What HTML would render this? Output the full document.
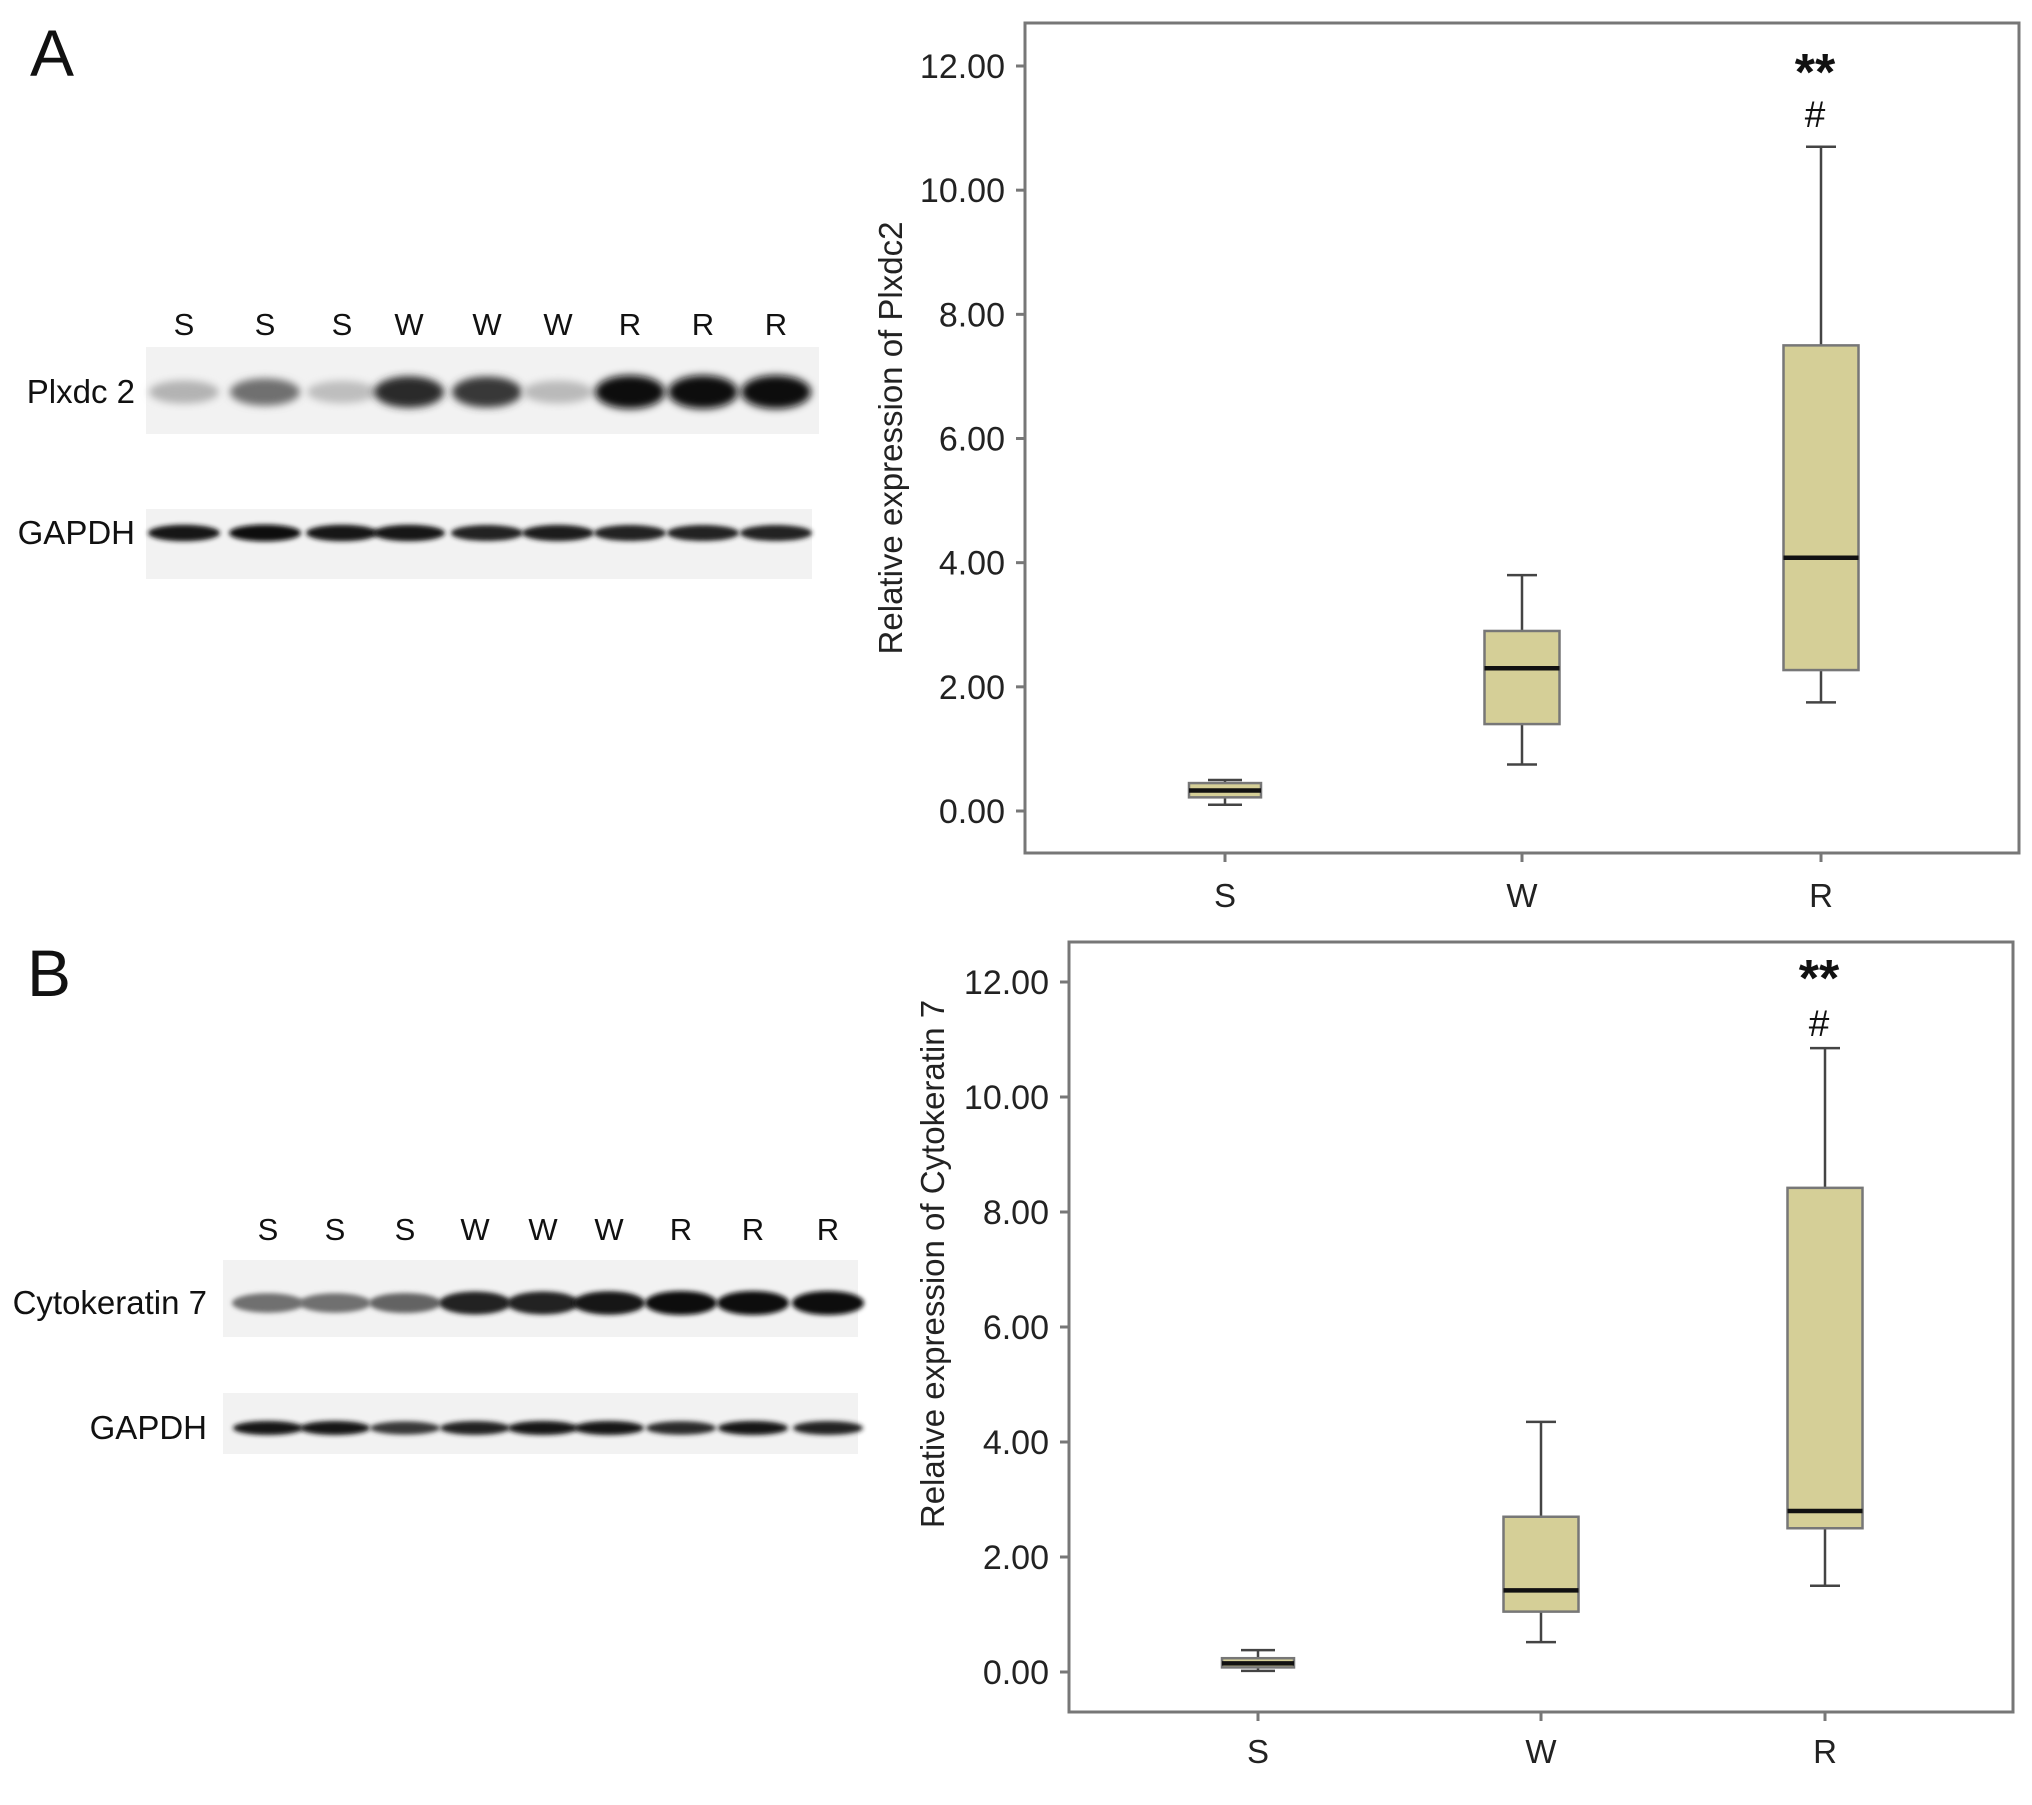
<!DOCTYPE html>
<html><head><meta charset="utf-8"><style>
html,body{margin:0;padding:0;background:#fff;}
svg{display:block;font-family:"Liberation Sans",Arial,sans-serif;}
</style></head><body>
<svg id="fig" width="2032" height="1805" viewBox="0 0 2032 1805" xmlns="http://www.w3.org/2000/svg">
<defs>
<filter id="blur" x="-20%" y="-50%" width="140%" height="200%"><feGaussianBlur stdDeviation="4"/></filter>
<filter id="blur2" x="-20%" y="-50%" width="140%" height="200%"><feGaussianBlur stdDeviation="2.5"/></filter>
</defs>
<text x="30" y="76" font-size="66" fill="#111">A</text>
<text x="27" y="996" font-size="66" fill="#111">B</text>
<g id="blots"></g>
<g id="chartA"></g>
<g id="chartB"></g>
</svg>
<script>
const NS="http://www.w3.org/2000/svg";
// ---- Chart data ----
const categories=["S","W","R"];
const yTicks=[0,2,4,6,8,10,12];
const tickLabels=["0.00","2.00","4.00","6.00","8.00","10.00","12.00"];
// Panel A (Plxdc2)
const aWhiskerLow=[0.1,0.75,1.75];
const aQ1=[0.22,1.4,2.27];
const aMedian=[0.33,2.3,4.08];
const aQ3=[0.45,2.9,7.5];
const aWhiskerHigh=[0.5,3.8,10.7];
// Panel B (Cytokeratin 7)
const bWhiskerLow=[0.02,0.52,1.5];
const bQ1=[0.08,1.05,2.5];
const bMedian=[0.15,1.42,2.8];
const bQ3=[0.24,2.7,8.42];
const bWhiskerHigh=[0.38,4.35,10.85];
// Blot lane labels and band intensities (0..1)
const laneLabels=["S","S","S","W","W","W","R","R","R"];
const plxdcIntensity=[0.25,0.55,0.2,0.85,0.8,0.22,1,1,1];
const gapdhAIntensity=[0.95,1,0.95,0.95,0.9,0.92,0.9,0.9,0.9];
const ck7Intensity=[0.55,0.55,0.6,0.9,0.9,0.95,1,1,1];
const gapdhBIntensity=[0.95,0.95,0.8,0.9,0.95,0.95,0.85,0.95,0.9];

function el(tag,attrs,parent){const e=document.createElementNS(NS,tag);for(const k in attrs)e.setAttribute(k,attrs[k]);parent.appendChild(e);return e;}

function drawChart(g,cfg,lo,q1,med,q3,hi){
  const yS=v=>cfg.y0-(v/12)*(cfg.y0-cfg.y12);
  const fr=el("rect",{x:cfg.left,y:cfg.top,width:cfg.right-cfg.left,height:cfg.bottom-cfg.top,fill:"#fff",stroke:"#777","stroke-width":3},g);
  
  
  yTicks.forEach((t,i)=>{
    const y=yS(t);
    const tk=el("line",{x1:cfg.left-9,x2:cfg.left,y1:y,y2:y,stroke:"#777","stroke-width":3},g);
    
    
    const tl=el("text",{x:cfg.left-20,y:y+12,"font-size":34,"text-anchor":"end",fill:"#222"},g);
    tl.textContent=tickLabels[i];
    
    
  });
  const yt=el("text",{x:0,y:0,"font-size":33,"text-anchor":"middle",fill:"#222",transform:`translate(${cfg.titleX},${cfg.titleY}) rotate(-90)`},g);
  yt.textContent=cfg.title;
  
  
  categories.forEach((c,i)=>{
    const x=cfg.xs[i];
    const xt=el("line",{x1:x,x2:x,y1:cfg.bottom,y2:cfg.bottom+9,stroke:"#777","stroke-width":3},g);
    
    
    const xl=el("text",{x:x,y:cfg.xLabelY,"font-size":33,"text-anchor":"middle",fill:"#222"},g);
    xl.textContent=c;
    
    
    const bw=i===0?72:75, cw=i===0?34:30;
    const wl=el("line",{x1:x,x2:x,y1:yS(hi[i]),y2:yS(lo[i]),stroke:"#444","stroke-width":2.5},g);
    
    
    [hi[i],lo[i]].forEach(v=>{
      const cap=el("line",{x1:x-cw/2,x2:x+cw/2,y1:yS(v),y2:yS(v),stroke:"#444","stroke-width":2.5},g);
      
      
    });
    const bx=el("rect",{x:x-bw/2,y:yS(q3[i]),width:bw,height:yS(q1[i])-yS(q3[i]),fill:"#d5cf97",stroke:"#777","stroke-width":2.5},g);
    
    
    const md=el("line",{x1:x-bw/2,x2:x+bw/2,y1:yS(med[i]),y2:yS(med[i]),stroke:"#111","stroke-width":4.5},g);
    
    
  });
  const st=el("text",{x:cfg.xs[2]-6,y:cfg.starY,"font-size":52,"font-weight":"bold","text-anchor":"middle",fill:"#111"},g);
  st.textContent="**";
  
  
  const hs=el("text",{x:cfg.xs[2]-6,y:cfg.hashY,"font-size":37,"text-anchor":"middle",fill:"#111"},g);
  hs.textContent="#";
  
  
}

drawChart(document.getElementById("chartA"),{left:1025,right:2019,top:23,bottom:853,y12:66,y0:811,xs:[1225,1522,1821],xLabelY:907,titleX:902,titleY:438,title:"Relative expression of Plxdc2",starY:90,hashY:127},aWhiskerLow,aQ1,aMedian,aQ3,aWhiskerHigh);
drawChart(document.getElementById("chartB"),{left:1069,right:2013,top:942,bottom:1712,y12:982,y0:1672,xs:[1258,1541,1825],xLabelY:1763,titleX:944,titleY:1264,title:"Relative expression of Cytokeratin 7",starY:996,hashY:1036},bWhiskerLow,bQ1,bMedian,bQ3,bWhiskerHigh);

function drawBlot(g,lanes,labelY,rect,bandY,bandH,bandW,intens,name,label,labelX,blurId,drawLabels){
  if(drawLabels){lanes.forEach((x,i)=>{
    const t=el("text",{x:x,y:labelY,"font-size":31,"text-anchor":"middle",fill:"#111"},g);
    t.textContent=laneLabels[i];
    
    
  });}
  const r=el("rect",{x:rect[0],y:rect[1],width:rect[2],height:rect[3],fill:"#f2f2f2"},g);
  
  
  intens.forEach((v,i)=>{
    const c=Math.round(235-225*v);
    const b=el("ellipse",{cx:lanes[i],cy:bandY,rx:bandW/2,ry:bandH/2*(0.7+0.5*v),fill:`rgb(${c},${c},${c})`,filter:`url(#${blurId})`},g);
    
    
  });
  const lt=el("text",{x:labelX,y:bandY+11,"font-size":33,"text-anchor":"end",fill:"#111"},g);
  lt.textContent=label;
  
  
}
const bl=document.getElementById("blots");
const lanesA=[184,265,342,409,487,558,630,703,776];
const lanesB=[268,335,405,475,543,609,681,753,828];
drawBlot(bl,lanesA,335,[146,347,673,87],392,28,70,plxdcIntensity,"plxdc2","Plxdc 2",135,"blur",true);
drawBlot(bl,lanesA,0,[146,509,666,70],533,14,72,gapdhAIntensity,"gapdh-a","GAPDH",135,"blur2",false);
drawBlot(bl,lanesB,1240,[223,1260,635,77],1303,20,72,ck7Intensity,"cytokeratin7","Cytokeratin 7",207,"blur2",true);
drawBlot(bl,lanesB,0,[223,1393,635,61],1428,12,70,gapdhBIntensity,"gapdh-b","GAPDH",207,"blur2",false);
</script>
</body></html>
